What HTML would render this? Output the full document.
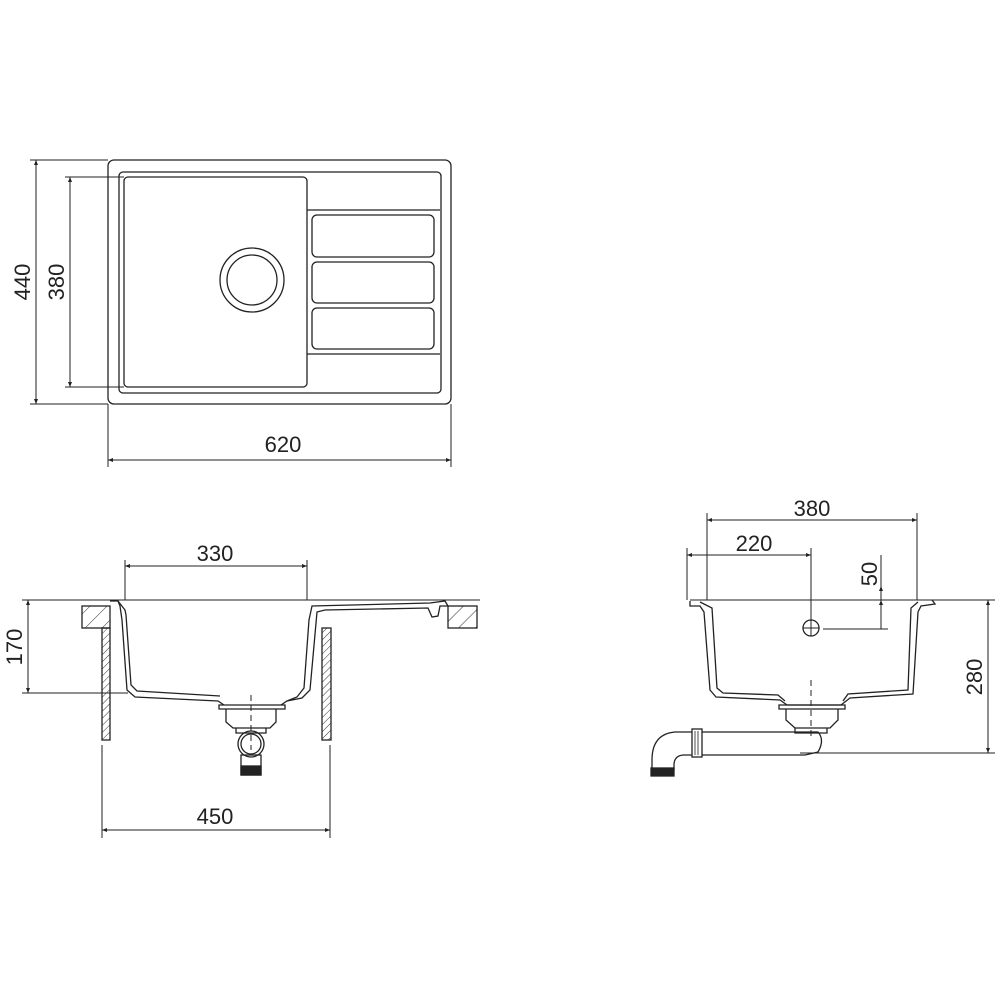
<!DOCTYPE html>
<html><head><style>html,body{margin:0;padding:0;background:#fff}</style></head><body>
<svg width="1000" height="1000" viewBox="0 0 1000 1000" xmlns="http://www.w3.org/2000/svg" font-family="Liberation Sans, sans-serif" font-size="21" fill="none" stroke="#222" stroke-width="1.3">
<defs>
<marker id="a" viewBox="0 0 10 10" refX="10" refY="5" markerWidth="5" markerHeight="11" orient="auto-start-reverse" markerUnits="userSpaceOnUse"><path d="M0,1 L10,5 L0,9 z" fill="#222" stroke="none"/></marker>
<pattern id="h" width="5" height="5" patternUnits="userSpaceOnUse" patternTransform="rotate(45)"><line x1="0" y1="0" x2="0" y2="5" stroke="#333" stroke-width="1"/></pattern>
<pattern id="h2" width="12" height="12" patternUnits="userSpaceOnUse" patternTransform="rotate(45)"><line x1="0" y1="0" x2="0" y2="12" stroke="#333" stroke-width="1"/></pattern>
</defs>
<!-- top view -->
<rect x="108" y="160" width="343" height="244" rx="6"/>
<rect x="119" y="172" width="322" height="221" rx="4"/>
<rect x="124" y="177" width="183" height="210" rx="4"/>
<circle cx="252" cy="280" r="32"/><circle cx="252" cy="280" r="25"/>
<line x1="307" y1="210" x2="440" y2="210"/><line x1="307" y1="354" x2="440" y2="354"/>
<rect x="312" y="215" width="122" height="42" rx="5"/>
<rect x="312" y="262" width="122" height="41" rx="5"/>
<rect x="312" y="308" width="122" height="41" rx="5"/>
<g stroke-width="1">
<line x1="30" y1="160" x2="108" y2="160"/><line x1="30" y1="404" x2="108" y2="404"/>
<line x1="36" y1="160" x2="36" y2="404" marker-start="url(#a)" marker-end="url(#a)"/>
<line x1="65" y1="177" x2="124" y2="177"/><line x1="65" y1="387" x2="124" y2="387"/>
<line x1="70" y1="177" x2="70" y2="387" marker-start="url(#a)" marker-end="url(#a)"/>
<line x1="108" y1="404" x2="108" y2="467"/><line x1="451" y1="404" x2="451" y2="467"/>
<line x1="108" y1="460" x2="451" y2="460" marker-start="url(#a)" marker-end="url(#a)"/>
</g>
<g fill="#222" stroke="none" font-size="22">
<text transform="translate(30,282) rotate(-90)" text-anchor="middle">440</text>
<text transform="translate(64,282) rotate(-90)" text-anchor="middle">380</text>
<text x="283" y="452" text-anchor="middle">620</text>
<text x="215" y="561" text-anchor="middle">330</text>
<text transform="translate(22,647) rotate(-90)" text-anchor="middle">170</text>
<text x="215" y="824" text-anchor="middle">450</text>
<text x="812" y="516" text-anchor="middle">380</text>
<text x="754" y="551" text-anchor="middle">220</text>
<text transform="translate(877,574) rotate(-90)" text-anchor="middle">50</text>
<text transform="translate(982,677) rotate(-90)" text-anchor="middle">280</text>
</g>
<!-- front view left -->
<g stroke-width="1">
<line x1="22" y1="600" x2="480" y2="600"/>
<line x1="22" y1="693" x2="128" y2="693"/>
<line x1="28" y1="600" x2="28" y2="693" marker-start="url(#a)" marker-end="url(#a)"/>
<line x1="125" y1="560" x2="125" y2="600"/><line x1="307" y1="560" x2="307" y2="600"/>
<line x1="125" y1="566" x2="307" y2="566" marker-start="url(#a)" marker-end="url(#a)"/>
<line x1="102" y1="745" x2="102" y2="838"/><line x1="330" y1="745" x2="330" y2="838"/>
<line x1="102" y1="830" x2="330" y2="830" marker-start="url(#a)" marker-end="url(#a)"/>
</g>
<rect x="82" y="606" width="28" height="22" fill="url(#h2)"/>
<rect x="448" y="606" width="29" height="22" fill="url(#h2)"/>
<rect x="102" y="628" width="8" height="112" fill="url(#h)"/>
<rect x="322" y="628" width="9" height="112" fill="url(#h)"/>
<path d="M110,601 L118,601 L120,606 L122,620 L127,690 L135,697 L218,701 L224,705"/>
<path d="M118,601 L125,610 L126,615 L131,685 L137,691 L220,696"/>
<path d="M281,705 L287,701 L297,697 L304,688 L309,620 L312,606 L430,603 L445,601 L448,606 L440,606 L438,616 L432,617 L428,608 L325,610 L317,612 L310,690 L302,698 L287,701"/>
<path d="M219,705 L285,705 L285,709 L219,709 Z"/>
<path d="M226,709 L226,722 L233,728 L270,728 L276,722 L276,709"/>
<path d="M236,728 L236,733 L266,733 L266,728"/>
<circle cx="251" cy="744" r="13"/><circle cx="251" cy="744" r="10"/>
<rect x="241" y="755" width="20" height="20"/>
<rect x="241" y="766" width="20" height="9" fill="#222"/>
<line x1="251" y1="695" x2="251" y2="750" stroke-dasharray="6,4" stroke-width="1"/>
<!-- right view -->
<g stroke-width="1">
<line x1="690" y1="600" x2="995" y2="600"/>
<line x1="800" y1="753" x2="995" y2="753"/>
<line x1="988" y1="600" x2="988" y2="753" marker-start="url(#a)" marker-end="url(#a)"/>
<line x1="707" y1="513" x2="707" y2="600"/><line x1="917" y1="513" x2="917" y2="600"/>
<line x1="707" y1="520" x2="917" y2="520" marker-start="url(#a)" marker-end="url(#a)"/>
<line x1="687" y1="548" x2="687" y2="600"/>
<line x1="687" y1="555" x2="811" y2="555" marker-start="url(#a)" marker-end="url(#a)"/>
<line x1="811" y1="548" x2="811" y2="620"/>
<line x1="823" y1="629" x2="888" y2="629"/>
<line x1="881" y1="555" x2="881" y2="629"/>
<line x1="881" y1="600" x2="881" y2="586" marker-end="url(#a)"/>
<line x1="881" y1="600" x2="881" y2="629" marker-start="url(#a)"/>
</g>
<circle cx="811" cy="628" r="8"/><line x1="803" y1="628" x2="819" y2="628" stroke-width="1"/><line x1="811" y1="620" x2="811" y2="636" stroke-width="1"/>
<path d="M690,601 L690,606 L700,606 L704,612 L710,690 L716,697 L780,700 L787,705 L841,705 L850,698 L913,694 L918,612 L921,606 L935,604 L932,600"/>
<path d="M700,602 L712,608 L717,688 L723,693 L778,695 L785,701"/>
<path d="M843,701 L848,694 L908,690 L911,608 L918,602"/>
<path d="M779,705 L845,705 L845,709 L779,709 Z"/>
<path d="M786,709 L786,720 L795,728 L830,728 L838,720 L838,709"/>
<path d="M795,728 L795,733 L827,733 L827,728"/>
<line x1="811" y1="680" x2="811" y2="740" stroke-dasharray="6,4" stroke-width="1"/>
<path d="M702,732 L818,732 Q825,740 818,752 L805,755 L702,755"/>
<rect x="692" y="729" width="10" height="28"/>
<line x1="695" y1="731" x2="695" y2="755" stroke-width="0.8"/><line x1="698" y1="731" x2="698" y2="755" stroke-width="0.8"/>
<path d="M692,732 L675,732 Q652,734 652,760 L652,770"/>
<path d="M692,755 L683,755 Q674,756 674,765 L674,770"/>
<rect x="651" y="768" width="23" height="8" fill="#222"/>
</svg>
</body></html>
